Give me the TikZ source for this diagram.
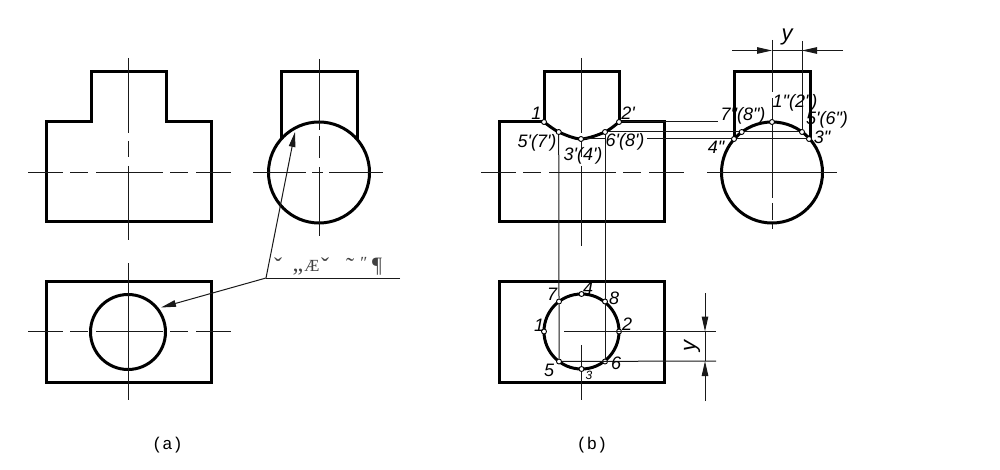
\documentclass[tikz,border=0pt]{standalone}
\usepackage{fontspec}
\usetikzlibrary{arrows.meta}
\newfontfamily\lblfont{Liberation Sans}
\newfontfamily\capfont{Liberation Mono}
\newfontfamily\garbfont{Liberation Serif}
\tikzset{
  x=1pt,y=-1pt,
  outline/.style={line width=3pt,line join=miter,line cap=butt},
  round outline/.style={line width=3pt},
  thin line/.style={line width=1pt,black!90},
  centre h/.style={thin line,dash pattern=on 35pt off 7pt on 18pt off 8pt on 67pt off 7pt on 18pt off 8pt on 35pt off 99pt},
  centre v/.style={thin line,dash pattern=on 75pt off 8pt on 16pt off 9pt on 80pt off 99pt},
  tip/.style={thin line,-{Triangle[length=15pt,width=6.5pt]}},
  dot/.style={circle,draw,fill=white,line width=0.9pt,inner sep=0pt,minimum size=5pt},
  lab/.style={inner sep=0pt,font=\lblfont\itshape\fontsize{18}{18}\selectfont},
  dimlab/.style={inner sep=0pt,font=\lblfont\itshape\fontsize{22}{22}\selectfont},
  captext/.style={inner sep=0pt,font=\capfont\fontsize{17}{17}\selectfont},
  garb/.style={inner sep=0pt,font=\garbfont\fontsize{24}{24}\selectfont,black!75},
  garbs/.style={inner sep=0pt,font=\garbfont\fontsize{17}{17}\selectfont,black!75},
  garbp/.style={inner sep=0pt,font=\garbfont\fontsize{22}{22}\selectfont,black!75}
}
\begin{document}
\begin{tikzpicture}
\useasboundingbox[fill=white] (0,0) rectangle (1000,470);
% ---------- (a)
\draw[outline] (46,222) -- (46,122) -- (91,122) -- (91,72) -- (166,72) -- (166,122) -- (211,122) -- (211,222) -- cycle;
\draw[outline] (281,139) -- (281,72) -- (357,72) -- (357,139);
\draw[round outline] (319,172.5) circle (50.5pt);
\draw[outline] (46,281) rectangle (211,382);
\draw[round outline] (128,332) circle (37.5pt);
\draw[centre h] (28,172.5) -- (231,172.5);
\draw[centre v] (128,58) -- (128,240);
\draw[thin line,dash pattern=on 53pt off 6pt on 11pt off 6pt on 55pt] (253,172.5) -- (383,172.5);
\draw[thin line,dash pattern=on 71pt off 6pt on 22pt off 9pt on 80pt] (319,59) -- (319,236);
\draw[centre h] (28,331) -- (231,331);
\draw[thin line] (128,263) -- (128,400);
\coordinate (lk) at (266,278);
\coordinate (le) at (400,278);
\coordinate (ta) at (295,132);
\coordinate (tb) at (161,307.5);
\draw[thin line] (le) -- (lk);
\draw[tip] (lk) -- (ta);
\draw[tip] (lk) -- (tb);
\node[garb] (g1) at (278,266) {ˇ};
\node[garb] (g2) at (298,272) {„};
\node[garbs] (g3) at (312,266) {Æ};
\node[garb] (g4) at (325,266) {ˇ};
\node[garb] (g5) at (350,266) {˜};
\node[garbs] (g6) at (364,263) {″};
\node[garbp] (g7) at (377,267) {¶};
\node[captext] (ca) at (167.5,445) {(a)};
% ---------- (b)
\draw[outline] (544,122) -- (499,122) -- (499,222) -- (664,222) -- (664,122) -- (619,122);
\draw[outline] (544,122) -- (544,72) -- (619,72) -- (619,122);
\draw[outline] (734,139) -- (734,72) -- (810,72) -- (810,139);
\draw[round outline] (772,172.5) circle (50.5pt);
\draw[outline] (499,281) rectangle (664,382);
\draw[round outline] (581.5,331.5) circle (37.5pt);
\coordinate (a1) at (544,122);
\coordinate (a5) at (558.7,132);
\coordinate (a3) at (581,139);
\coordinate (a6) at (605,132);
\coordinate (a2) at (619,122);
\draw[round outline] plot[smooth,tension=0.5] coordinates {(a1) (a5) (a3) (a6) (a2)};
\draw[centre h] (481,172.5) -- (684,172.5);
\draw[centre v] (581,58) -- (581,400);
\draw[thin line] (707,172.5) -- (837,172.5);
\draw[thin line,dash pattern=on 52pt off 6pt on 100pt off 5pt on 17pt off 4pt on 5pt] (772,40) -- (772,229);
% projection lines
\node[dot] (b1) at (544,122) {};
\node[dot] (b2) at (619,122) {};
\node[dot] (b3) at (581,139) {};
\node[dot] (b5) at (558.7,132) {};
\node[dot] (b6) at (605,132) {};
\node[dot] (r1) at (772,122) {};
\node[dot] (r3) at (809,139) {};
\node[dot] (r4) at (734,139) {};
\node[dot] (r5) at (802,132) {};
\node[dot] (r7) at (741.7,132) {};
\node[dot] (t1) at (544,331.5) {};
\node[dot] (t2) at (619,331.5) {};
\node[dot] (t3) at (581.5,369) {};
\node[dot] (t4) at (581.5,294) {};
\node[dot] (t5) at (559,361.5) {};
\node[dot] (t6) at (605,361.5) {};
\node[dot] (t7) at (559,301.5) {};
\node[dot] (t8) at (605,301.5) {};
\coordinate (q1) at (718,122);
\coordinate (q3) at (647,139);
\coordinate (q4) at (605,139);
\draw[thin line] (b5) -- (t7) -- (t5);
\draw[thin line] (b6) -- (t8) -- (t6);
\draw[thin line] (b2) -- (q1);
\draw[thin line] (b6) -- (r7) -- (r5);
\draw[thin line] (q3) -- (r4) -- (r3);
\draw[thin line] (b3) -- (q4);
% y dimension top
\coordinate (ya) at (732,50.5);
\coordinate (yb) at (772,50.5);
\coordinate (yc) at (843,50.5);
\coordinate (yd) at (802,50.5);
\coordinate (ye) at (802,41);
\draw[tip] (ya) -- (yb);
\draw[tip] (yc) -- (yd);
\draw[thin line] (yb) -- (yd);
\draw[thin line] (ye) -- (r5);
\node[dimlab] (yt) at (787,37) {y};
% y dimension right
\coordinate (da) at (716,331.5);
\coordinate (db) at (716,361);
\coordinate (dc) at (705,293);
\coordinate (dd) at (705,331.5);
\coordinate (de) at (705,401);
\coordinate (df) at (705,361);
\coordinate (dg) at (564,331.5);
\draw[thin line] (dg) -- (da);
\draw[thin line] (t5) -- (db);
\draw[tip] (dc) -- (dd);
\draw[tip] (de) -- (df);
\draw[thin line] (dd) -- (df);
\node[dimlab,rotate=90] (ys) at (692,346) {y};
% labels
\node[lab] (l1) at (538,113) {1'};
\node[lab] (l2) at (628,113) {2'};
\node[lab] (l5) at (537,143) {5'(7')};
\node[lab] (l3) at (583,156) {3'(4')};
\node[lab] (l6) at (625,142) {6'(8')};
\node[lab] (m7) at (743,116) {7"(8")};
\node[lab] (m1) at (795,103) {1"(2")};
\node[lab] (m5) at (827,120) {5'(6")};
\node[lab] (m3) at (822,137) {3"};
\node[lab] (m4) at (716,147) {4"};
\node[lab] (n7) at (552,294) {7};
\node[lab] (n4) at (588,288) {4};
\node[lab] (n8) at (614,298) {8};
\node[lab] (n1) at (539,325) {1};
\node[lab] (n2) at (627,324) {2};
\node[lab] (n5) at (549,370) {5};
\node[lab] (n6) at (616,363) {6};
\node[lab,font=\lblfont\itshape\fontsize{12}{12}\selectfont] (n3) at (589,375) {3};
\node[captext] (cb) at (592,445) {(b)};
\end{tikzpicture}
\end{document}
